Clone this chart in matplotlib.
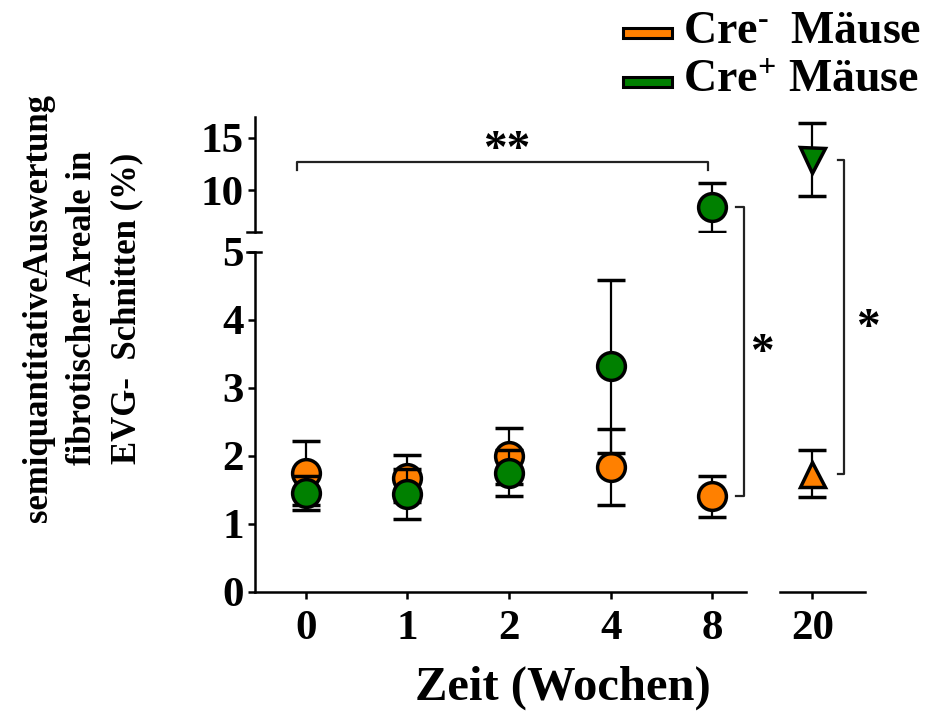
import numpy as np
import matplotlib
matplotlib.use('Agg')
from matplotlib import pyplot as plt
from matplotlib.lines import Line2D
from matplotlib.patches import Rectangle

plt.rcParams['font.family'] = ['Liberation Serif', 'DejaVu Serif']
plt.rcParams['font.weight'] = 'bold'
plt.rcParams['mathtext.fontset'] = 'custom'
plt.rcParams['mathtext.rm'] = 'Liberation Serif:bold'
plt.rcParams['mathtext.bf'] = 'Liberation Serif:bold'
plt.rcParams['mathtext.it'] = 'Liberation Serif:bold:italic'

# data
weeks = ['0', '1', '2', '4', '8']
neg_mean = [1.75, 1.67, 2.00, 1.84, 1.41]
neg_sem = [0.47, 0.34, 0.41, 0.56, 0.30]
pos_mean = [1.45, 1.44, 1.75, 3.32, 8.37]
pos_sem = [0.25, 0.37, 0.34, 1.27, 2.33]

week_late = ['20']
neg_late_mean = [1.74]
neg_late_sem = [0.35]
pos_late_mean = [12.9]
pos_late_sem = [3.5]

orange = '#FF8000'
green = '#008000'
W, H = 936, 711


def box(l, t, r, b):
    return [l / W, 1 - b / H, (r - l) / W, (b - t) / H]


fig = plt.figure(figsize=(9.36, 7.11), dpi=100)
ax_low = fig.add_axes(box(255, 252, 746, 592))
ax_low2 = fig.add_axes(box(780, 252, 865, 592))
ax_up = fig.add_axes(box(255, 117, 746, 232))
ax_up2 = fig.add_axes(box(780, 117, 865, 232))

x = np.arange(len(weeks))
x2 = np.arange(len(week_late))


def draw(ax, xs, m1, s1, m2, s2, mk1, mk2):
    for m, s, mk, col, z in ((m1, s1, mk1, orange, 3), (m2, s2, mk2, green, 4)):
        ax.errorbar(xs, m, yerr=s, fmt=mk, ms=20 if mk == 'o' else 18,
                    mfc=col, mec='black', mew=2.5, ecolor='black',
                    elinewidth=1.6, capsize=10, capthick=1.6, zorder=z)


draw(ax_low, x, neg_mean, neg_sem, pos_mean, pos_sem, 'o', 'o')
draw(ax_up, x, neg_mean, neg_sem, pos_mean, pos_sem, 'o', 'o')
draw(ax_low2, x2, neg_late_mean, neg_late_sem, pos_late_mean, pos_late_sem, '^', 'v')
draw(ax_up2, x2, neg_late_mean, neg_late_sem, pos_late_mean, pos_late_sem, '^', 'v')

for ax in (ax_low, ax_up):
    ax.set_xlim(-0.5, 4.33)
for ax in (ax_low2, ax_up2):
    ax.set_xlim(-0.32, 0.52)
for ax in (ax_low, ax_low2):
    ax.set_ylim(0, 5)
for ax in (ax_up, ax_up2):
    ax.set_ylim(6, 17)

for ax in (ax_low, ax_low2, ax_up, ax_up2):
    for s in ax.spines.values():
        s.set_linewidth(1.8)
        s.set_visible(False)
    ax.tick_params(width=1.8, length=5, labelsize=31, pad=3)
    ax.set_facecolor('none')

ax_low.spines['left'].set_visible(True)
ax_low.spines['bottom'].set_visible(True)
ax_low2.spines['bottom'].set_visible(True)
ax_up.spines['left'].set_visible(True)

ax_low.set_yticks([0, 1, 2, 3, 4, 5])
ax_low.set_xticks(x, weeks)
ax_low2.set_xticks(x2, week_late)
ax_low2.set_yticks([])
ax_up.set_yticks([10, 15])
ax_up.set_xticks([])
ax_up2.set_xticks([])
ax_up2.set_yticks([])
for ax in (ax_low, ax_low2):
    ax.tick_params(axis='x', pad=8)

# break marks on the y axis
for ax, yv in ((ax_low, 5), (ax_up, 6)):
    ax.plot([-0.016, 0.012], [yv, yv], color='black', lw=1.8,
            transform=ax.get_yaxis_transform(), clip_on=False)

# significance ** bracket
bc = '#222222'
ax_up.plot([-0.09, -0.09, 3.96, 3.96], [11.9, 12.7, 12.7, 11.9], color=bc,
           lw=1.6, clip_on=False)
ax_up.text(1.98, 11.75, '**', ha='center', va='bottom', fontsize=34)


def fxy(ax, xv, yv):
    d = ax.transData.transform((xv, yv))
    return fig.transFigure.inverted().transform(d)


def side_bracket(ax_t, ax_b, xv, xt, yt, yb, tx, ty):
    p1 = fxy(ax_t, xt, yt)
    p2 = fxy(ax_t, xv, yt)
    p3 = fxy(ax_b, xv, yb)
    p4 = fxy(ax_b, xt, yb)
    fig.add_artist(Line2D([p1[0], p2[0], p3[0], p4[0]],
                          [p1[1], p2[1], p3[1], p4[1]], color=bc, lw=1.6))
    fig.text(tx / W, 1 - ty / H, '*', ha='center', va='center', fontsize=34)


side_bracket(ax_up, ax_low, 4.31, 4.23, pos_mean[4], neg_mean[4], 762, 354)
side_bracket(ax_up2, ax_low2, 0.31, 0.25, pos_late_mean[0], neg_late_mean[0], 868, 329)

fig.text(563 / W, 1 - 688 / H, 'Zeit (Wochen)', ha='center', va='center',
         fontsize=35)
fig.text(83 / W, 1 - 308 / H,
         'semiquantitativeAuswertung\nfibrotischer Areale in\nEVG-  Schnitten (%)',
         rotation=90, ha='center', va='center', multialignment='center',
         fontsize=25, linespacing=1.45)

# legend
for top, col, lab in ((28, orange, r'Cre$^{\text{-}}\;$ Mäuse'),
                      (77, green, r'Cre$^{+}$ Mäuse')):
    fig.add_artist(Rectangle((623 / W, 1 - (top + 10) / H), 49 / W, 10 / H,
                             facecolor=col, edgecolor='black', lw=2.2,
                             transform=fig.transFigure))
    fig.text(683 / W, 1 - (top + 15) / H, lab, ha='left', va='baseline',
             fontsize=33)

fig.savefig('out.png', dpi=100)
